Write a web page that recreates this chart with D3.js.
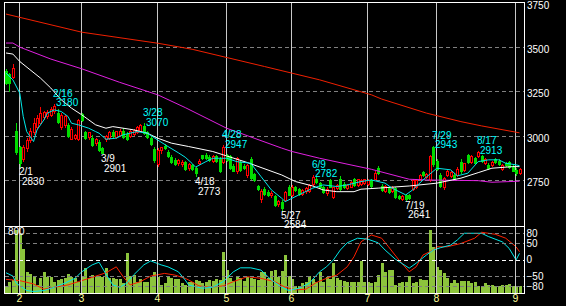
<!DOCTYPE html>
<html>
<head>
<meta charset="utf-8">
<script src="https://cdn.jsdelivr.net/npm/d3@7"></script>
<style>
html, body { margin: 0; padding: 0; background: #000; }
svg { display: block; }
text { font-family: "Liberation Sans", Arial, sans-serif; }
</style>
</head>
<body>
<div id="chart"></div>
<script>
// month labels and the index of the first trading day of each month
var months = ["2", "3", "4", "5", "6", "7", "8", "9"];
var monthStart = [4, 22, 44, 64, 83, 105, 125, 148];
var priceTicks = [2750, 3000, 3250, 3500, 3750];
var rciTicks = [80, 50, 0, -50, -80];
var volTicks = [800];

// daily candles [open, high, low, close]
var ohlc = [
  [3365,3375,3290,3300],[3350,3355,3255,3300],[3330,3405,3325,3380],[3030,3075,2900,2910],
  [2935,2945,2830,2850],[2870,2950,2860,2935],[2930,2990,2915,2975],[2975,3045,2965,3030],
  [3020,3100,3010,3075],[3050,3120,3040,3100],[3075,3165,3070,3130],[3105,3140,3095,3135],
  [3110,3145,3100,3135],[3120,3160,3110,3150],[3140,3180,3130,3170],[3130,3150,3070,3080],
  [3050,3130,3040,3120],[3060,3120,3050,3110],[3060,3075,2995,3000],[2985,3050,2980,3040],
  [2990,3010,2985,3005],[2980,3095,2975,3090],
  [3125,3130,3085,3090],[3020,3030,2985,2990],[2995,3020,2985,3020],[2990,3005,2945,2950],
  [2960,2990,2950,2985],[2965,2975,2915,2920],[2930,2935,2901,2905],[2980,3005,2970,3000],
  [2990,3030,2980,3020],[3020,3035,2995,3000],[2995,3030,2990,3025],[3005,3040,3000,3030],
  [3030,3045,2990,2995],[3010,3020,2975,2985],[3000,3040,2995,3030],[3010,3040,3005,3035],
  [3020,3055,3015,3050],[3030,3065,3025,3060],[3055,3070,3010,3015],[3020,3030,2990,2995],
  [2990,3000,2950,2955],[2925,2940,2855,2865],
  [2840,2930,2830,2920],[2920,2940,2905,2935],[2945,2955,2925,2930],[2910,2920,2880,2885],
  [2880,2890,2850,2855],[2865,2875,2835,2840],[2845,2870,2835,2865],[2840,2865,2830,2855],
  [2855,2860,2810,2815],[2820,2850,2810,2840],[2835,2840,2810,2815],[2820,2825,2773,2790],
  [2845,2870,2840,2860],[2890,2895,2870,2875],[2895,2905,2870,2875],[2880,2890,2860,2865],
  [2860,2890,2855,2885],[2885,2890,2855,2860],[2870,2880,2795,2800],[2855,2947,2850,2940],
  [2890,2900,2860,2865],[2885,2890,2815,2820],[2830,2840,2800,2805],[2800,2880,2790,2875],
  [2855,2860,2805,2810],[2830,2840,2815,2820],[2780,2840,2770,2835],[2870,2880,2755,2765],
  [2785,2790,2745,2750],[2720,2725,2695,2700],[2645,2700,2630,2690],[2700,2710,2670,2675],
  [2685,2695,2660,2665],[2665,2690,2655,2680],[2660,2670,2605,2610],[2615,2640,2605,2635],
  [2630,2640,2584,2595],[2640,2690,2635,2685],[2715,2725,2665,2670],
  [2670,2725,2660,2715],[2715,2720,2690,2695],[2700,2705,2670,2675],[2675,2700,2665,2695],
  [2690,2710,2680,2705],[2690,2730,2685,2725],[2730,2782,2725,2770],[2760,2770,2735,2740],
  [2735,2740,2705,2710],[2710,2720,2680,2685],[2680,2710,2670,2700],[2750,2760,2710,2715],
  [2655,2715,2650,2710],[2705,2730,2700,2725],[2760,2775,2695,2700],[2730,2740,2705,2710],
  [2705,2730,2700,2725],[2715,2745,2710,2740],[2755,2765,2720,2725],[2725,2760,2720,2755],
  [2730,2760,2725,2750],[2735,2760,2730,2755],
  [2730,2755,2725,2750],[2750,2760,2715,2720],[2760,2800,2755,2790],[2820,2830,2785,2790],
  [2720,2730,2690,2695],[2690,2725,2685,2720],[2710,2715,2680,2685],[2690,2720,2685,2715],
  [2705,2710,2648,2655],[2660,2670,2645,2650],[2645,2665,2642,2660],[2670,2675,2641,2645],
  [2665,2675,2645,2650],[2700,2755,2695,2750],[2710,2755,2705,2750],[2755,2785,2750,2780],
  [2795,2800,2775,2780],[2770,2790,2765,2785],[2750,2890,2745,2885],[2935,2943,2830,2840],
  [2860,2870,2810,2815],[2780,2790,2710,2720],[2715,2770,2700,2765],[2780,2810,2775,2805],
  [2775,2800,2770,2795],[2780,2790,2755,2760],[2780,2825,2775,2815],[2855,2870,2790,2800],
  [2810,2850,2805,2845],[2890,2900,2850,2855],[2855,2890,2850,2885],[2875,2880,2845,2850],
  [2885,2913,2880,2910],[2885,2895,2855,2860],[2850,2875,2840,2870],[2835,2850,2815,2820],
  [2835,2860,2830,2855],[2870,2875,2850,2855],[2860,2870,2835,2840],[2815,2840,2810,2835],
  [2845,2855,2830,2835],[2855,2860,2820,2825],[2830,2840,2800,2805],[2810,2820,2780,2790],
  [2790,2820,2785,2815]
];

var volume = [
  94,152,170,846,802,591,286,255,228,107,197,286,219,219,152,175,184,197,255,211,
  197,152,228,331,197,242,211,228,219,331,197,197,184,184,130,541,228,242,152,184,
  152,152,219,286,219,107,130,219,197,184,184,130,107,152,152,175,165,130,152,175,
  165,184,175,555,309,197,165,211,197,165,219,197,184,175,286,286,197,295,309,211,
  295,510,228,184,94,94,130,152,228,184,152,286,152,211,184,407,197,175,165,152,
  152,152,152,430,152,152,139,152,242,407,286,309,309,107,130,152,152,228,139,152,
  184,175,175,846,622,353,309,264,197,139,175,139,165,165,165,139,152,94,94,130,
  107,107,94,94,107,107,121,94,100,94
];

// moving averages as [day index, value]
var ma5 = [[0,3353],[2,3315],[4,3240],[5,3109],[6,3024],[8,2968],[9,3034],[11,3090],[12,3128],
  [14,3146],[16,3137],[18,3109],[19,3071],[21,3062],[24,3043],[26,3024],[27,3015],[29,2981],
  [32,2987],[34,3006],[38,3024],[41,3015],[44,2977],[47,2940],[50,2905],[52,2880],[54,2845],
  [55,2824],[58,2855],[60,2874],[64,2874],[67,2855],[71,2846],[74,2771],[77,2696],[80,2649],
  [81,2630],[85,2668],[89,2706],[92,2724],[96,2715],[99,2724],[103,2743],[106,2752],[110,2734],
  [112,2706],[116,2668],[118,2696],[121,2752],[125,2818],[129,2809],[131,2775],[134,2790],
  [137,2855],[140,2865],[143,2865],[145,2846],[148,2837],[149,2832]];
var ma25 = [[0,3466],[2,3460],[4,3418],[10,3325],[13,3269],[16,3203],[19,3156],[22,3118],
  [26,3062],[29,3043],[31,3052],[37,3034],[41,3015],[44,2987],[48,2959],[53,2940],[60,2912],
  [70,2850],[80,2780],[84,2743],[89,2718],[92,2696],[96,2686],[101,2686],[103,2700],[108,2706],
  [117,2718],[125,2734],[132,2762],[137,2793],[141,2818],[147,2827],[149,2827]];
var ma75 = [[0,3522],[2,3522],[4,3499],[13,3432],[22,3377],[33,3301],[44,3231],[52,3159],
  [64,3043],[80,2931],[83,2912],[91,2874],[106,2812],[117,2756],[122,2752],[137,2748],
  [141,2739],[149,2745]];
var ma200 = [[0,3685],[22,3583],[44,3521],[54,3487],[75,3390],[91,3315],[106,3231],[109,3207],
  [122,3128],[132,3080],[138,3056],[149,3017]];

// oscillators in the lower panel
var rciShort = [[0,-40],[2,-50],[3,-72],[6,-94],[8,-97],[11,-94],[14,-84],[17,-72],[20,-57],
  [22,-37],[25,-16],[27,-8],[29,-44],[31,-77],[33,-84],[35,-72],[37,-47],[40,-16],[42,-4],
  [45,-16],[47,-22],[50,-37],[52,-62],[53,-77],[57,-87],[60,-84],[63,-67],[66,-37],[68,-25],
  [71,-25],[74,-32],[77,-62],[80,-84],[82,-94],[85,-87],[88,-72],[91,-37],[93,-22],[95,-1],
  [97,29],[99,51],[102,65],[105,62],[108,51],[110,29],[113,1],[117,-26],[119,-11],[122,14],
  [124,29],[126,36],[129,44],[131,60],[133,80],[138,80],[140,70],[144,54],[146,34],[148,-1],
  [149,19]];
var rciLong = [[0,-60],[4,-64],[8,-74],[11,-90],[14,-84],[18,-77],[21,-67],[25,-54],[29,-40],
  [32,-22],[34,-52],[36,-77],[39,-67],[42,-50],[46,-42],[49,-47],[52,-57],[53,-62],[56,-80],
  [59,-84],[63,-80],[66,-67],[70,-52],[74,-57],[78,-67],[81,-84],[84,-92],[87,-90],[90,-70],
  [93,-57],[96,-47],[99,-22],[101,9],[103,54],[105,68],[106,75],[109,65],[111,39],[114,-1],
  [117,-37],[119,-22],[121,14],[124,29],[125,39],[128,39],[132,49],[136,65],[138,83],[142,77],
  [145,65],[148,39],[149,24]];

// marked highs (1) and lows (0): [day index, date, price, kind]
var peaks = [[4,"2/1",2830,0],[14,"2/16",3180,1],[28,"3/9",2901,0],[40,"3/28",3070,1],
  [55,"4/18",2773,0],[63,"4/28",2947,1],[80,"5/27",2584,0],[89,"6/9",2782,1],
  [116,"7/19",2641,0],[124,"7/29",2943,1],[137,"8/17",2913,1]];

var width = 566, height = 306;
var pLeft = 4.5, pRight = 524.5, pTop = 2.5, pMid = 226.5, pBottom = 293.5;

var svg = d3.select("#chart").append("svg")
  .attr("width", width)
  .attr("height", height);
svg.append("rect").attr("width", width).attr("height", height).attr("fill", "#000");

var x = d3.scaleLinear().domain([0, ohlc.length - 1]).range([6, 519.5]);
var y = d3.scaleLinear().domain([2493, 3750]).range([226, 2.5]);
var yr = d3.scaleLinear().domain([-100, 100]).range([292.5, 226.7]);
var yv = d3.scaleLinear().domain([0, 900]).range([293, 226]);

var defs = svg.append("defs");
defs.append("clipPath").attr("id", "clipMain").append("rect")
  .attr("x", pLeft).attr("y", pTop).attr("width", pRight - pLeft).attr("height", pMid - pTop);
defs.append("clipPath").attr("id", "clipLow").append("rect")
  .attr("x", pLeft).attr("y", pMid).attr("width", pRight - pLeft).attr("height", pBottom - pMid);

// horizontal grid, main panel
svg.append("g").selectAll("line")
  .data(priceTicks.filter(function(d) { return d < 3750; }))
  .enter().append("line")
  .attr("x1", pLeft).attr("x2", pRight)
  .attr("y1", function(d) { return Math.round(y(d)) + 0.5; })
  .attr("y2", function(d) { return Math.round(y(d)) + 0.5; })
  .attr("stroke", "#808080")
  .attr("stroke-dasharray", "4,3")
  .attr("shape-rendering", "crispEdges");

// volume bars
var low = svg.append("g").attr("clip-path", "url(#clipLow)");
low.selectAll("rect")
  .data(volume)
  .enter().append("rect")
  .attr("x", function(d, i) { return Math.round(x(i)) - 1; })
  .attr("width", 3)
  .attr("y", function(d) { return Math.round(yv(d)); })
  .attr("height", function(d) { return 293 - Math.round(yv(d)); })
  .attr("fill", "#8cc43c")
  .attr("shape-rendering", "crispEdges");

// horizontal grid, lower panel
svg.append("g").selectAll("line")
  .data(rciTicks)
  .enter().append("line")
  .attr("x1", pLeft).attr("x2", pRight)
  .attr("y1", function(d) { return Math.round(yr(d)) + 0.5; })
  .attr("y2", function(d) { return Math.round(yr(d)) + 0.5; })
  .attr("stroke", function(d) { return d === 0 ? "#ffffff" : "#808080"; })
  .attr("stroke-dasharray", "4,3")
  .attr("shape-rendering", "crispEdges");

// month separators
svg.append("g").selectAll("line")
  .data(monthStart)
  .enter().append("line")
  .attr("x1", function(d) { return Math.round(x(d) - 0.9) + 0.5; })
  .attr("x2", function(d) { return Math.round(x(d) - 0.9) + 0.5; })
  .attr("y1", pTop).attr("y2", pBottom)
  .attr("stroke", "#c8c8c8")
  .attr("shape-rendering", "crispEdges");

// candles
var main = svg.append("g").attr("clip-path", "url(#clipMain)");
var candle = main.selectAll("g.candle")
  .data(ohlc)
  .enter().append("g")
  .attr("class", "candle");
candle.append("line")
  .attr("x1", function(d, i) { return Math.round(x(i)) + 0.5; })
  .attr("x2", function(d, i) { return Math.round(x(i)) + 0.5; })
  .attr("y1", function(d) { return Math.round(y(d[1])); })
  .attr("y2", function(d) { return Math.round(y(d[2])) + 1; })
  .attr("stroke", function(d) { return d[3] >= d[0] ? "#ff0000" : "#00dc00"; })
  .attr("shape-rendering", "crispEdges");
candle.append("rect")
  .attr("x", function(d, i) { return d[3] >= d[0] ? Math.round(x(i)) - 0.5 : Math.round(x(i)) - 1; })
  .attr("width", function(d) { return d[3] >= d[0] ? 2 : 3; })
  .attr("y", function(d) {
    var t = Math.round(y(Math.max(d[0], d[3])));
    return d[3] >= d[0] ? t + 0.5 : t;
  })
  .attr("height", function(d) {
    var h = Math.max(1, Math.round(y(Math.min(d[0], d[3]))) - Math.round(y(Math.max(d[0], d[3]))));
    return d[3] >= d[0] ? h : h + 1;
  })
  .attr("fill", function(d) { return d[3] >= d[0] ? "#000" : "#00dc00"; })
  .attr("stroke", function(d) { return d[3] >= d[0] ? "#ff0000" : "none"; })
  .attr("shape-rendering", "crispEdges");

// moving averages
var maLine = d3.line()
  .x(function(d) { return x(d[0]); })
  .y(function(d) { return y(d[1]); });
var maSeries = [[ma200, "#f02000"], [ma75, "#e020e0"], [ma25, "#ffffff"], [ma5, "#00e8e8"]];
main.selectAll("path.ma")
  .data(maSeries)
  .enter().append("path")
  .attr("class", "ma")
  .attr("d", function(d) { return maLine(d[0]); })
  .attr("fill", "none")
  .attr("stroke", function(d) { return d[1]; })
  .attr("stroke-width", 1);

// oscillator lines
var rciLine = d3.line()
  .x(function(d) { return x(d[0]); })
  .y(function(d) { return yr(d[1]); });
low.selectAll("path.rci")
  .data([[rciLong, "#ff2000"], [rciShort, "#00e8e8"]])
  .enter().append("path")
  .attr("class", "rci")
  .attr("d", function(d) { return rciLine(d[0]); })
  .attr("fill", "none")
  .attr("stroke", function(d) { return d[1]; })
  .attr("stroke-width", 1);

// panel borders
svg.append("rect")
  .attr("x", pLeft).attr("y", pTop)
  .attr("width", pRight - pLeft).attr("height", pBottom - pTop)
  .attr("fill", "none").attr("stroke", "#ffffff")
  .attr("shape-rendering", "crispEdges");
svg.append("line")
  .attr("x1", pLeft).attr("x2", pRight).attr("y1", pMid).attr("y2", pMid)
  .attr("stroke", "#ffffff")
  .attr("shape-rendering", "crispEdges");

// right axes
var axisMain = svg.append("g")
  .attr("transform", "translate(" + pRight + ",0)")
  .call(d3.axisRight(y).tickValues(priceTicks).tickSize(0).tickPadding(2.5)
    .tickFormat(d3.format("d")));
axisMain.select(".domain").remove();
axisMain.selectAll("text")
  .attr("fill", "#ffffff")
  .attr("dy", "0.55em")
  .style("font-size", "10px")
  .style("font-family", "'Liberation Sans', Arial, sans-serif");

var axisLow = svg.append("g")
  .attr("transform", "translate(" + pRight + ",0)")
  .call(d3.axisRight(yr).tickValues(rciTicks).tickSize(0).tickPadding(2)
    .tickFormat(function(d) { return d < 0 ? "\u2212" + Math.abs(d) : d; }));
axisLow.select(".domain").remove();
axisLow.selectAll("text")
  .attr("fill", "#ffffff")
  .style("font-size", "10px")
  .style("font-family", "'Liberation Sans', Arial, sans-serif");

// month labels
var axisX = svg.append("g")
  .attr("transform", "translate(0," + 293 + ")")
  .call(d3.axisBottom(x).tickValues(monthStart).tickSize(0).tickPadding(1.5)
    .tickFormat(function(d, i) { return months[i]; }));
axisX.select(".domain").remove();
axisX.selectAll(".tick").attr("transform", function(d) {
  return "translate(" + (Math.round(x(d) - 0.9) + 0.5) + ",0)";
});
axisX.selectAll("text")
  .attr("fill", "#ffff99")
  .style("font-size", "10.5px")
  .style("font-family", "'Liberation Sans', Arial, sans-serif");

// volume scale label
svg.append("g").selectAll("text")
  .data(volTicks)
  .enter().append("text")
  .attr("x", 8)
  .attr("y", function(d) { return yv(d) + 1.6; })
  .attr("fill", "#ffffff")
  .style("font-size", "10px")
  .text(function(d) { return d; });

// high / low annotations
var ann = svg.append("g").selectAll("g")
  .data(peaks)
  .enter().append("g");
ann.append("text")
  .attr("x", function(d) { return Math.round(x(d[0])) - 1; })
  .attr("y", function(d) { return d[3] ? y(d[2]) - 7 : y(d[2]) + 9; })
  .attr("fill", function(d) { return d[3] ? "#00ffff" : "#ffffff"; })
  .style("font-size", "10px")
  .text(function(d) { return d[1]; });
ann.append("text")
  .attr("x", function(d) { return Math.round(x(d[0])) + 2; })
  .attr("y", function(d) { return d[3] ? y(d[2]) + 2.5 : y(d[2]) + 18.5; })
  .attr("fill", function(d) { return d[3] ? "#00ffff" : "#ffffff"; })
  .style("font-size", "10px")
  .text(function(d) { return d[2]; });
</script>
</body>
</html>
